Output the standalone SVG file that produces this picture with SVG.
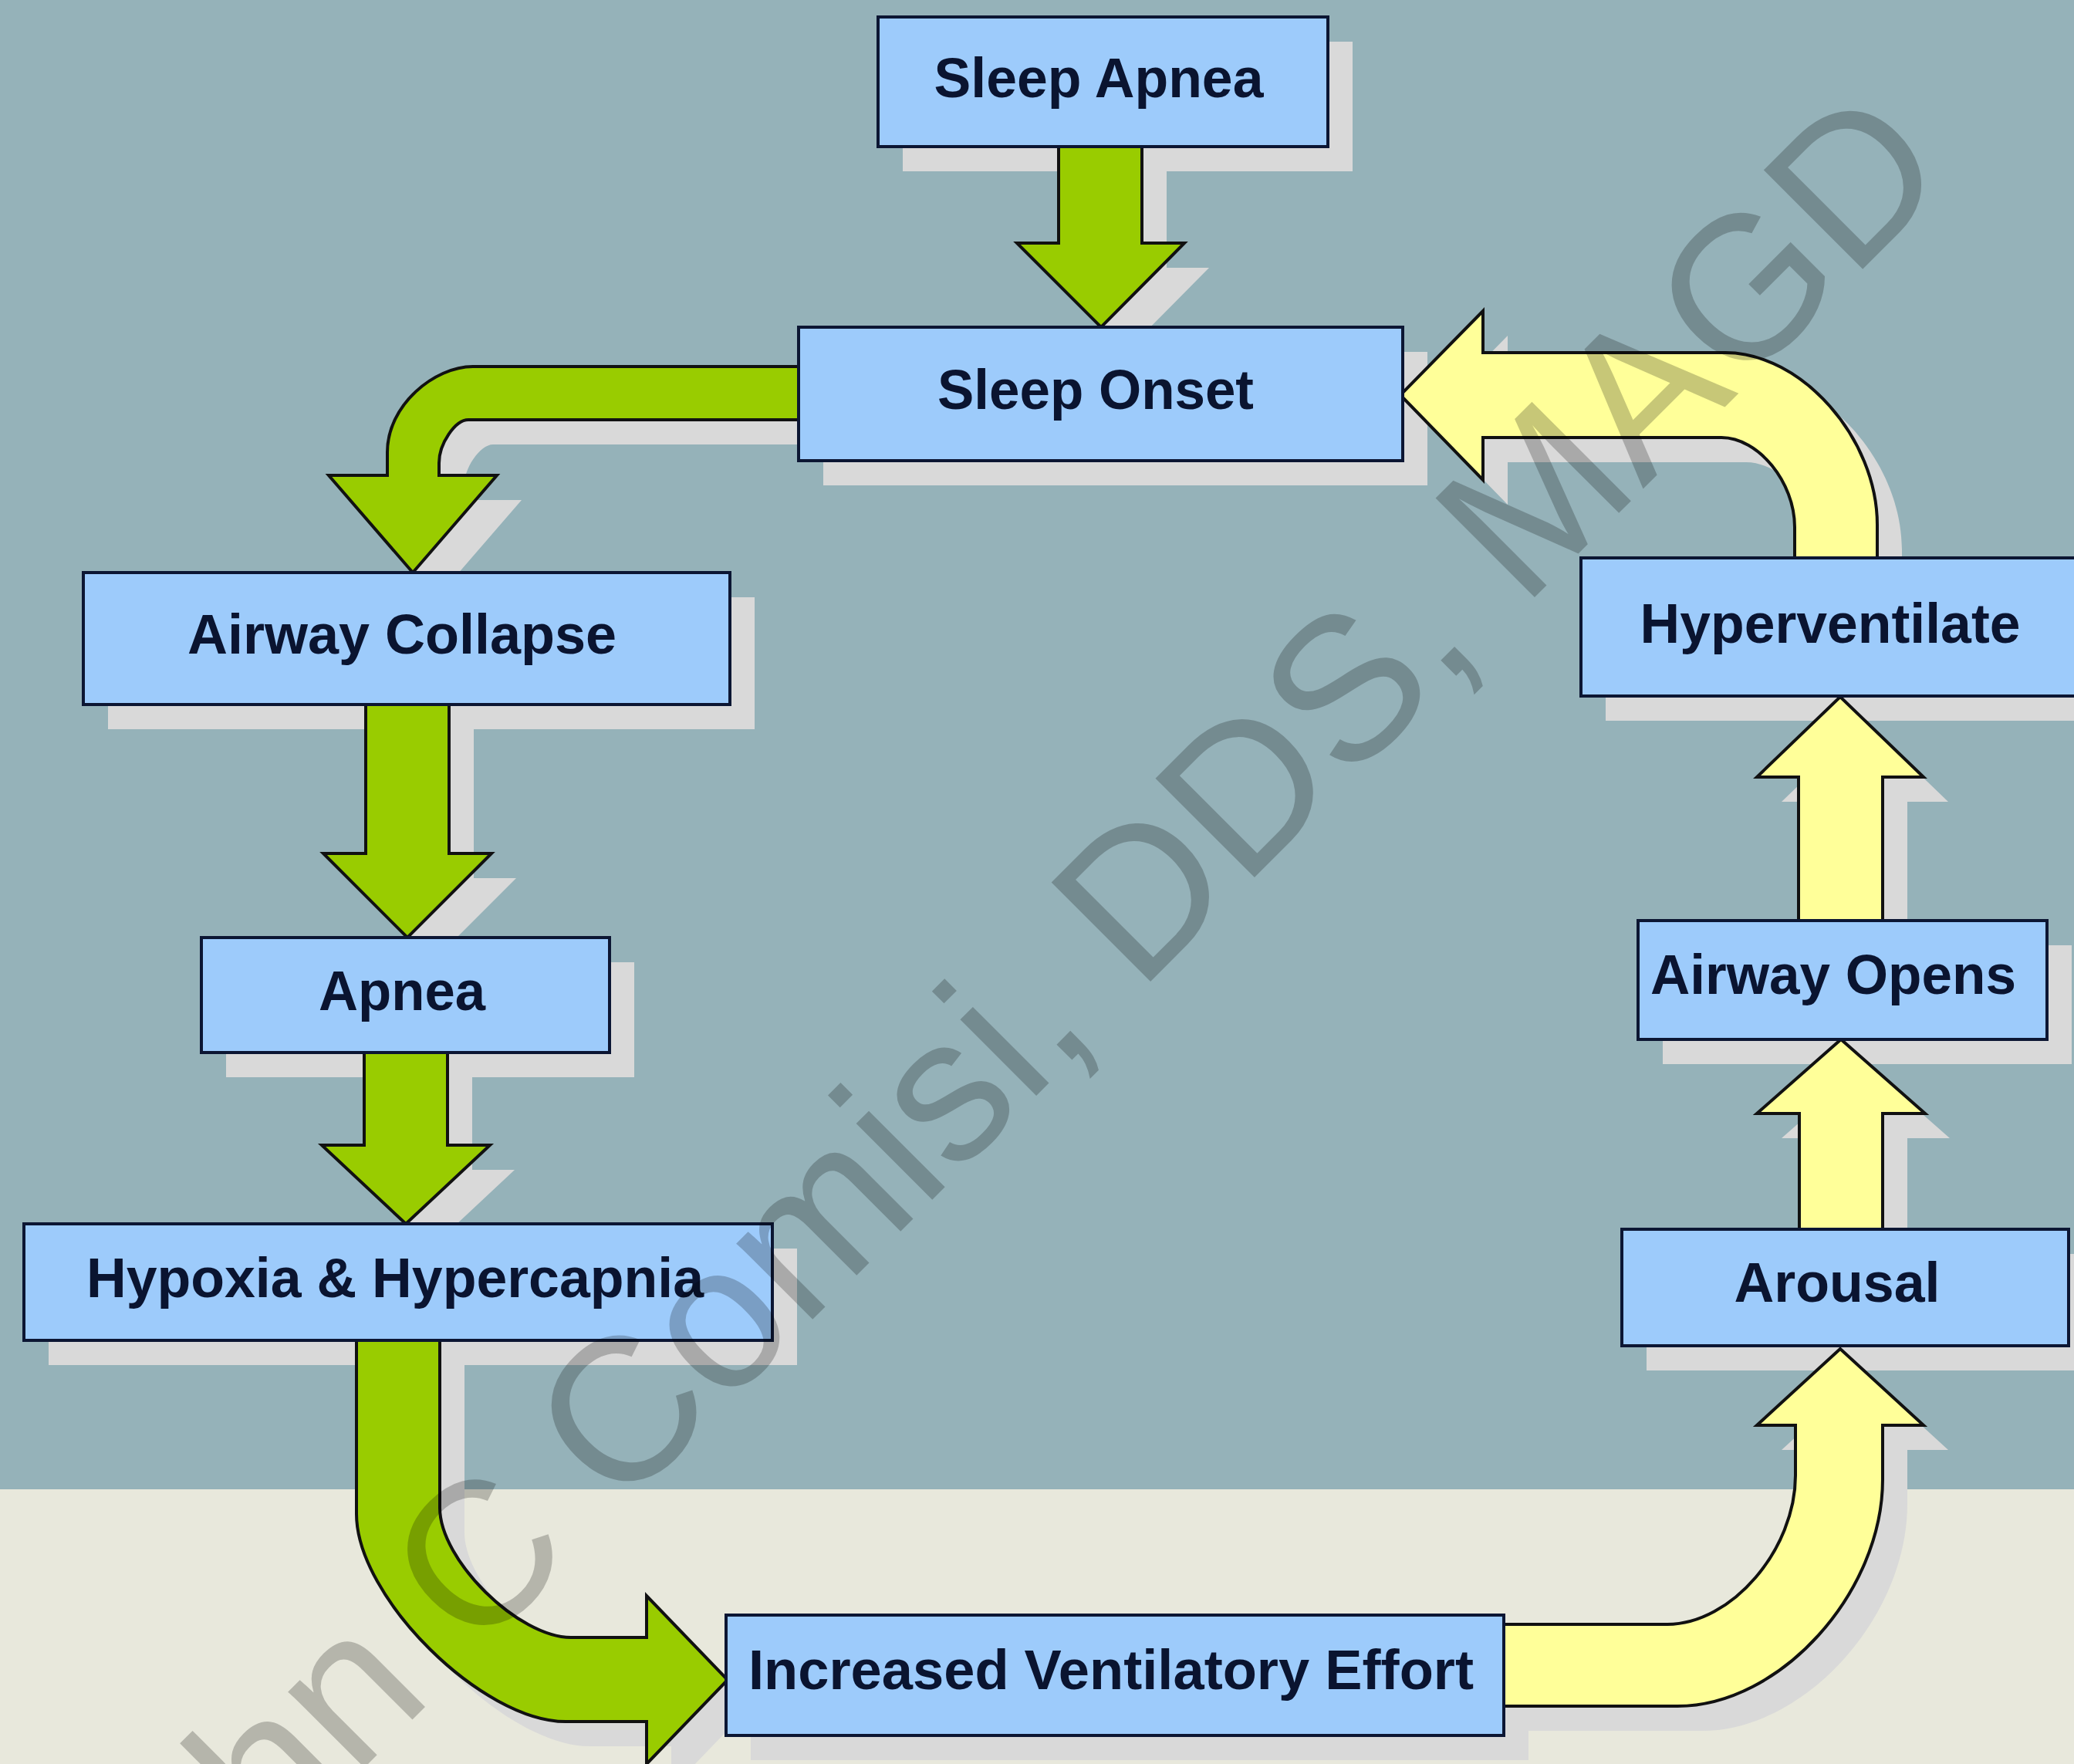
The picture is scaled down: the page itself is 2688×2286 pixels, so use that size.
<svg xmlns="http://www.w3.org/2000/svg" xmlns:xlink="http://www.w3.org/1999/xlink" width="2688" height="2286" viewBox="0 0 2688 2286">
<style>
.box{fill:#9dcbfb;stroke:#0c1633;stroke-width:4}
.bsh{fill:#d9d9d9}
.sh{fill:#d9d9d9;stroke:none}
.green{fill:#99cc00;stroke:#111;stroke-width:4;stroke-linejoin:miter}
.yellow{fill:#ffff99;stroke:#111;stroke-width:4;stroke-linejoin:miter}
.lbl{font-family:"Liberation Sans",Arial,sans-serif;font-weight:bold;font-size:72px;fill:#0a1430;text-anchor:middle}
.wm{font-family:"Liberation Sans",Arial,sans-serif;font-size:264px;fill:#000;fill-opacity:0.22;text-anchor:middle}
</style>
<defs>
<path id="p1" d="M1372,190 L1480,190 L1480,315 L1535,315 L1427,424 L1318,315 L1372,315 Z"/>
<path id="p2" d="M1035,475 L613,475 C563,475 502,525 502,586 L502,616 L426,616 L535,742 L644,616 L569,616 L569,600 C569,575 590,544 607,544 L1035,544 Z"/>
<path id="p3" d="M474,913 L582,913 L582,1106 L637,1106 L528,1215 L419,1106 L474,1106 Z"/>
<path id="p4" d="M472,1364 L580,1364 L580,1484 L635,1484 L526,1586 L417,1484 L472,1484 Z"/>
<path id="p5" d="M462,1737 L570,1737 L570,1954 C570,2022 672,2122 740,2122 L838,2122 L838,2068 L943,2177 L838,2286 L838,2231 L733,2231 C625,2231 462,2070 462,1962 Z"/>
<path id="p6" d="M1949,2105 L2161,2105 C2244,2105 2327,2008 2327,1912 L2327,1847 L2277,1847 L2385,1748 L2493,1847 L2440,1847 L2440,1917 C2440,2064 2307,2211 2174,2211 L1949,2211 Z"/>
<path id="p7" d="M2332,1593 L2440,1593 L2440,1443 L2495,1443 L2386,1347 L2277,1443 L2332,1443 Z"/>
<path id="p8" d="M2331,1193 L2440,1193 L2440,1007 L2493,1007 L2385,903 L2277,1007 L2331,1007 Z"/>
<path id="p9" d="M2326,723 L2326,683 C2326,625 2279,567 2231,567 L1922,567 L1922,622 L1815,512 L1922,403 L1922,457 L2236,457 C2335,457 2433,568 2433,680 L2433,723 Z"/>
</defs>
<g id="background">
<rect x="0" y="0" width="2688" height="1930" fill="#95b2b9"/>
<rect x="0" y="1930" width="2688" height="356" fill="#e8e8dc"/>
</g>
<g id="shadows">
<rect class="bsh" x="1170" y="54" width="583" height="168"/>
<rect class="bsh" x="1067" y="456" width="783" height="173"/>
<rect class="bsh" x="140" y="774" width="838" height="171"/>
<rect class="bsh" x="293" y="1247" width="529" height="149"/>
<rect class="bsh" x="63" y="1618" width="970" height="151"/>
<rect class="bsh" x="973" y="2125" width="1008" height="156"/>
<rect class="bsh" x="2134" y="1625" width="579" height="151"/>
<rect class="bsh" x="2155" y="1225" width="530" height="154"/>
<rect class="bsh" x="2081" y="755" width="651" height="179"/>
<g transform="translate(32,32)">
<use xlink:href="#p1" class="sh"/>
<use xlink:href="#p2" class="sh"/>
<use xlink:href="#p3" class="sh"/>
<use xlink:href="#p4" class="sh"/>
<use xlink:href="#p5" class="sh"/>
<use xlink:href="#p6" class="sh"/>
<use xlink:href="#p7" class="sh"/>
<use xlink:href="#p8" class="sh"/>
<use xlink:href="#p9" class="sh"/>
</g>
</g>
<g id="connectors">
<use xlink:href="#p1" class="green"/>
<use xlink:href="#p2" class="green"/>
<use xlink:href="#p3" class="green"/>
<use xlink:href="#p4" class="green"/>
<use xlink:href="#p5" class="green"/>
<use xlink:href="#p6" class="yellow"/>
<use xlink:href="#p7" class="yellow"/>
<use xlink:href="#p8" class="yellow"/>
<use xlink:href="#p9" class="yellow"/>
</g>
<g id="node-sleep-apnea">
<rect class="box" x="1138" y="22" width="583" height="168"/>
<text class="lbl" x="1424" y="126" textLength="427" lengthAdjust="spacingAndGlyphs">Sleep Apnea</text>
</g>
<g id="node-sleep-onset">
<rect class="box" x="1035" y="424" width="783" height="173"/>
<text class="lbl" x="1420" y="530" textLength="410" lengthAdjust="spacingAndGlyphs">Sleep Onset</text>
</g>
<g id="node-airway-collapse">
<rect class="box" x="108" y="742" width="838" height="171"/>
<text class="lbl" x="521" y="847" textLength="556" lengthAdjust="spacingAndGlyphs">Airway Collapse</text>
</g>
<g id="node-apnea">
<rect class="box" x="261" y="1215" width="529" height="149"/>
<text class="lbl" x="521" y="1309" textLength="216" lengthAdjust="spacingAndGlyphs">Apnea</text>
</g>
<g id="node-hypoxia">
<rect class="box" x="31" y="1586" width="970" height="151"/>
<text class="lbl" x="512" y="1681" textLength="800" lengthAdjust="spacingAndGlyphs">Hypoxia &amp; Hypercapnia</text>
</g>
<g id="node-increased-effort">
<rect class="box" x="941" y="2093" width="1008" height="156"/>
<text class="lbl" x="1440" y="2189" textLength="940" lengthAdjust="spacingAndGlyphs">Increased Ventilatory Effort</text>
</g>
<g id="node-arousal">
<rect class="box" x="2102" y="1593" width="579" height="151"/>
<text class="lbl" x="2381" y="1687" textLength="267" lengthAdjust="spacingAndGlyphs">Arousal</text>
</g>
<g id="node-airway-opens">
<rect class="box" x="2123" y="1193" width="530" height="154"/>
<text class="lbl" x="2376" y="1288" textLength="474" lengthAdjust="spacingAndGlyphs">Airway Opens</text>
</g>
<g id="node-hyperventilate">
<rect class="box" x="2049" y="723" width="651" height="179"/>
<text class="lbl" x="2372" y="833" textLength="493" lengthAdjust="spacingAndGlyphs">Hyperventilate</text>
</g>
<g id="watermark">
<text class="wm" transform="translate(1346,1417) rotate(-45)" x="0" y="0">John C Comisi, DDS, MAGD</text>
</g>
</svg>
